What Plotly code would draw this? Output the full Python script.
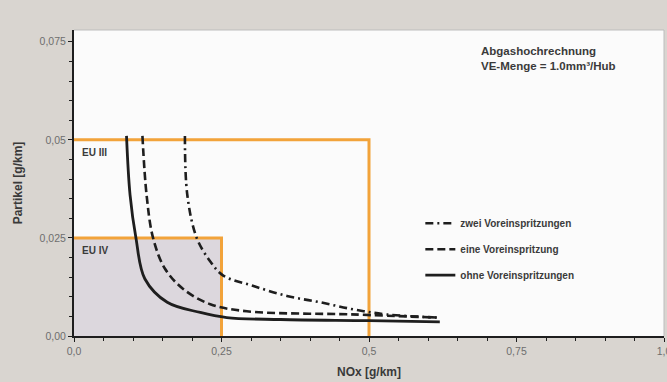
import plotly.graph_objects as go

# --- data ---
nox_ohne = [0.089, 0.095, 0.105, 0.120, 0.158, 0.214, 0.259, 0.35, 0.50, 0.62]
pm_ohne = [0.051, 0.036, 0.025, 0.0146, 0.0086, 0.0060, 0.0047, 0.0042, 0.0039, 0.0036]

nox_eine = [0.116, 0.123, 0.134, 0.154, 0.185, 0.231, 0.293, 0.47, 0.615]
pm_eine = [0.051, 0.036, 0.025, 0.0172, 0.012, 0.0081, 0.0063, 0.0055, 0.0047]

nox_zwei = [0.188, 0.192, 0.208, 0.231, 0.253, 0.303, 0.361, 0.417, 0.473, 0.53, 0.615]
pm_zwei = [0.051, 0.036, 0.025, 0.019, 0.0154, 0.0128, 0.0102, 0.0086, 0.0068, 0.0055, 0.0047]

eu_names = ["EU III", "EU IV"]
eu_nox = [0.5, 0.25]
eu_pm = [0.05, 0.025]

x_tickvals = [0.0, 0.25, 0.5, 0.75, 1.0]
x_ticktext = ["0,0", "0,25", "0,5", "0,75", "1,0"]
y_tickvals = [0.0, 0.025, 0.05, 0.075]
y_ticktext = ["0,00", "0,025", "0,05", "0,075"]

ORANGE = "#f2a33a"
DARK = "#1e1e1e"
TXT = "#3a3a3a"

fig = go.Figure()

# EU IV filled area
fig.add_trace(go.Scatter(
    x=[0, eu_nox[1], eu_nox[1], 0], y=[0, 0, eu_pm[1], eu_pm[1]],
    fill="toself", fillcolor="#dcd7dd", line=dict(width=0),
    mode="lines", showlegend=False, hoverinfo="skip"))

# EU limit outlines
for name, nx, pm in zip(eu_names, eu_nox, eu_pm):
    fig.add_trace(go.Scatter(
        x=[0, nx, nx], y=[pm, pm, 0], mode="lines",
        line=dict(color=ORANGE, width=3), showlegend=False, name=name))
    fig.add_annotation(x=0.01, y=pm, xref="x", yref="y", text="<b>" + name + "</b>",
                       showarrow=False, xanchor="left", yanchor="top", yshift=-5,
                       font=dict(family="Liberation Sans", size=10, color=TXT))

fig.add_trace(go.Scatter(x=nox_zwei, y=pm_zwei, mode="lines", name="zwei Voreinspritzungen",
                         legendgroup="a", line=dict(color=DARK, width=2.6, dash="8px,4px,2px,4px"),
                         line_shape="spline"))
fig.add_trace(go.Scatter(x=nox_eine, y=pm_eine, mode="lines", name="eine Voreinspritzung",
                         legendgroup="b", line=dict(color=DARK, width=2.6, dash="8px,4px"),
                         line_shape="spline"))
fig.add_trace(go.Scatter(x=nox_ohne, y=pm_ohne, mode="lines", name="ohne Voreinspritzungen",
                         legendgroup="c", line=dict(color=DARK, width=2.8),
                         line_shape="spline"))

fig.add_annotation(x=0.686, y=0.0748, xref="x", yref="y",
                   text="<b>Abgashochrechnung</b><br><b>VE-Menge = 1.0mm³/Hub</b>",
                   showarrow=False, xanchor="left", yanchor="top", align="left",
                   font=dict(family="Liberation Sans", size=11.5, color=TXT))

fig.update_layout(
    width=667, height=382,
    margin=dict(l=74, r=3, t=30, b=46, autoexpand=False),
    paper_bgcolor="#d9d5d0",
    plot_bgcolor="#fbfbfb",
    font=dict(family="Liberation Sans", color=TXT),
    legend=dict(x=0.587, y=0.416, xanchor="left", yanchor="top",
                traceorder="grouped", tracegroupgap=7,
                bgcolor="rgba(0,0,0,0)",
                font=dict(family="Liberation Sans", size=10, color=TXT, weight="bold")),
    xaxis=dict(range=[0, 1.0], tickvals=x_tickvals, ticktext=x_ticktext, automargin=False,
               ticklabeloverflow="allow",
               showgrid=False, zeroline=False, showline=True, linecolor=DARK, linewidth=2,
               mirror=False, ticks="outside", ticklen=4, tickcolor=DARK,
               minor=dict(dtick=0.05, ticks="outside", ticklen=3, tickcolor=DARK),
               tickfont=dict(size=10.5, color="#6e6e6e"),
               title=dict(text="<b>NOx [g/km]</b>", font=dict(size=12, color=TXT), standoff=12)),
    yaxis=dict(range=[0, 0.078], tickvals=y_tickvals, ticktext=y_ticktext, automargin=False,
               showgrid=False, zeroline=False, showline=True, linecolor=DARK, linewidth=2,
               ticks="outside", ticklen=4, tickcolor=DARK,
               minor=dict(dtick=0.005, ticks="outside", ticklen=3, tickcolor=DARK),
               tickfont=dict(size=10.5, color="#6e6e6e"),
               title=dict(text="<b>Partikel [g/km]</b>", font=dict(size=12, color=TXT), standoff=14)),
)

# light frame top/right
fig.add_shape(type="line", xref="paper", yref="paper", x0=0, x1=1, y0=1, y1=1,
              line=dict(color="#bdbdbd", width=1))
fig.add_shape(type="line", xref="paper", yref="paper", x0=1, x1=1, y0=0, y1=1,
              line=dict(color="#bdbdbd", width=1))

fig.write_html("out.html", config={"displayModeBar": False},
               post_script="document.body.style.margin='0';document.body.style.overflow='hidden';")
